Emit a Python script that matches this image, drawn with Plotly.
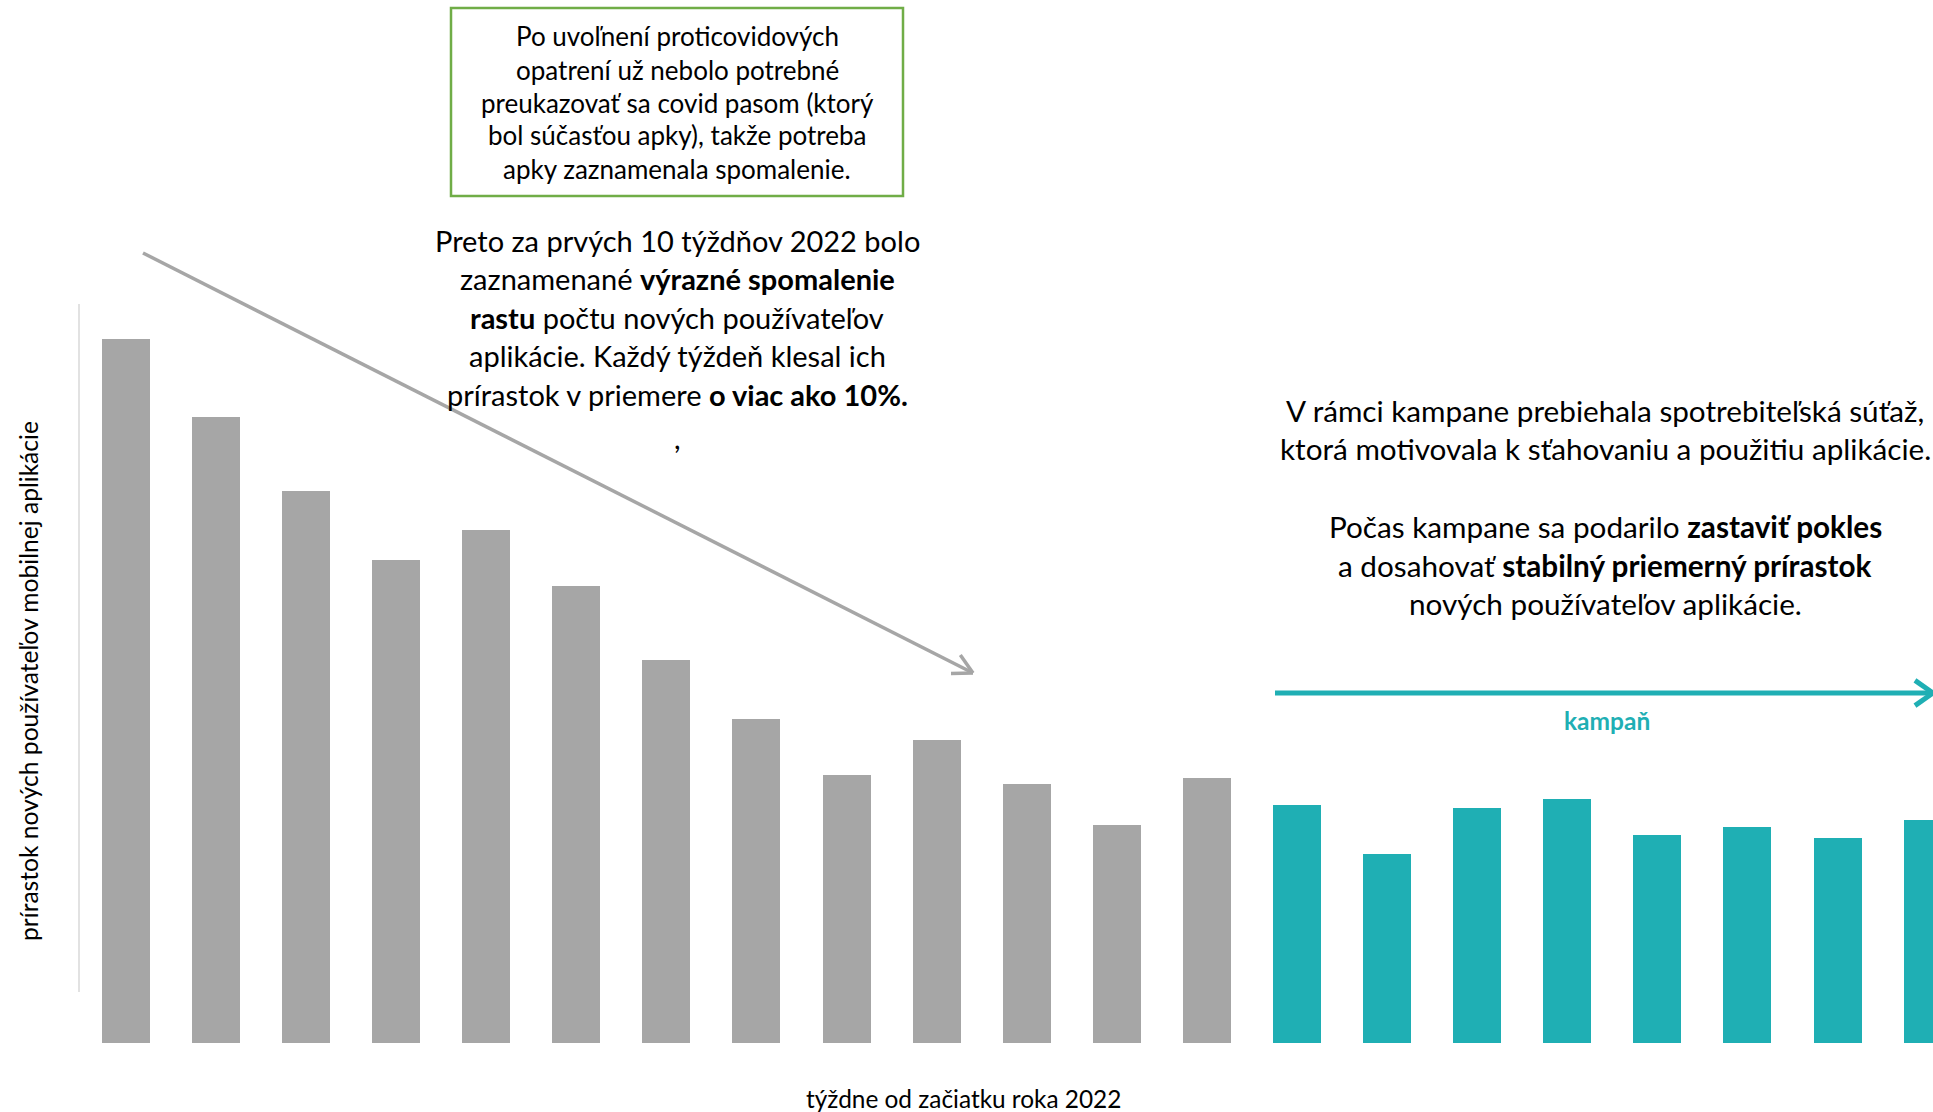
import math
import plotly.graph_objects as go

# Weekly growth of new mobile-app users (relative units), weeks 1-21 of 2022
weeks = list(range(1, 22))
new_users = [571, 508, 448, 392, 416, 371, 311, 263, 217, 246, 210,
             177, 215, 193, 153, 191, 198, 169, 175, 166, 181]
campaign_start_week = 14

GRAY = "#A6A6A6"
TEAL = "#1FAFB4"
GREEN = "#70AD47"
TEXT = "#000000"
FONT = "Lato"

W, H = 1933, 1112
M_T, M_B = 0, 69
PLOT_H = H - M_T - M_B

bar_colors = [TEAL if w >= campaign_start_week else GRAY for w in weeks]


def px(x):
    """Horizontal pixel -> paper fraction."""
    return x / W


def py(y):
    """Vertical pixel (from top) -> paper fraction."""
    return (H - M_B - y) / PLOT_H


fig = go.Figure(
    go.Bar(
        x=weeks,
        y=new_users,
        width=0.533,
        marker=dict(color=bar_colors, line=dict(width=0)),
        hoverinfo="skip",
    )
)

annotations = []


def add_line(text, x, y, size, color=TEXT, bold=False, angle=0):
    annotations.append(dict(
        text=f"<b>{text}</b>" if bold else text,
        x=px(x), y=py(y), xref="paper", yref="paper",
        xanchor="center", yanchor="middle", showarrow=False,
        textangle=angle,
        font=dict(family=FONT, size=size, color=color),
    ))


# Boxed note at the top
box_lines = [
    "Po uvoľnení proticovidových",
    "opatrení už nebolo potrebné",
    "preukazovať sa covid pasom (ktorý",
    "bol súčasťou apky), takže potreba",
    "apky zaznamenala spomalenie.",
]
for i, line in enumerate(box_lines):
    add_line(line, 677, 36.5 + 33 * i, 26)

# Comment on the first weeks
mid_lines = [
    "Preto za prvých 10 týždňov 2022 bolo",
    "zaznamenané <b>výrazné spomalenie</b>",
    "<b>rastu</b> počtu nových používateľov",
    "aplikácie. Každý týždeň klesal ich",
    "prírastok v priemere <b>o viac ako 10%.</b>",
]
for i, line in enumerate(mid_lines):
    add_line(line, 677, 240 + 38.6 * i, 29)
add_line(",", 677, 437, 29)

# Comment on the campaign
right_lines = [
    (411, "V rámci kampane prebiehala spotrebiteľská súťaž,"),
    (449, "ktorá motivovala k sťahovaniu a použitiu aplikácie."),
    (526, "Počas kampane sa podarilo <b>zastaviť pokles</b>"),
    (565, "a dosahovať <b>stabilný priemerný prírastok</b>"),
    (603, "nových používateľov aplikácie."),
]
for y, line in right_lines:
    add_line(line, 1605, y, 29.7)

add_line("kampaň", 1607, 720, 24.5, color=TEAL, bold=True)

# Axis titles
add_line("týždne od začiatku roka 2022", 963, 1098, 24.4)
add_line("prírastok nových používateľov mobilnej aplikácie", 28, 681, 24.6, angle=-90)

shapes = []


def seg(x0, y0, x1, y1, color, width):
    shapes.append(dict(
        type="line", xref="paper", yref="paper",
        x0=px(x0), y0=py(y0), x1=px(x1), y1=py(y1),
        line=dict(color=color, width=width),
    ))


def arrow(x0, y0, x1, y1, color, width, head_len, head_angle):
    seg(x0, y0, x1, y1, color, width)
    back = math.atan2(y0 - y1, x0 - x1)
    for sgn in (-1, 1):
        a = back + sgn * math.radians(head_angle)
        seg(x1, y1, x1 + head_len * math.cos(a), y1 + head_len * math.sin(a), color, width)


# Box border
shapes.append(dict(
    type="rect", xref="paper", yref="paper",
    x0=px(451), y0=py(196), x1=px(903), y1=py(8),
    line=dict(color=GREEN, width=2.5), fillcolor="rgba(0,0,0,0)",
))

# Downward trend arrow
arrow(143, 253, 973, 673, GRAY, 3.5, 22, 28)

# Campaign arrow
arrow(1275, 693, 1933, 693, TEAL, 5, 22, 35)

# Vertical axis line
seg(79, 304, 79, 992, "#D9D9D9", 1.5)

fig.update_layout(
    width=W, height=H,
    margin=dict(l=0, r=0, t=M_T, b=M_B, pad=0),
    paper_bgcolor="white", plot_bgcolor="white",
    showlegend=False,
    bargap=0,
    xaxis=dict(range=[-0.3966, 21.06], visible=False, fixedrange=True),
    yaxis=dict(range=[0, 846], visible=False, fixedrange=True),
    annotations=annotations,
    shapes=shapes,
)

fig.write_html("out.html", config={"displayModeBar": False})
